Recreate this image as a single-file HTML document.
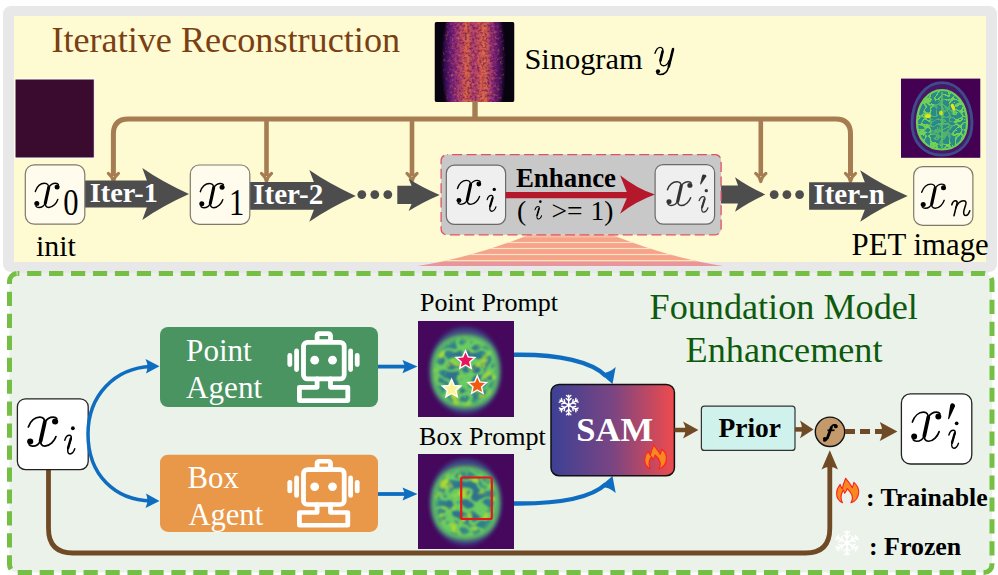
<!DOCTYPE html><html><head><meta charset="utf-8"><style>html,body{margin:0;padding:0;background:#fff;}svg{display:block;}</style></head><body>
<svg width="998" height="575" viewBox="0 0 998 575">
<defs>
<linearGradient id="samg" x1="0" x2="1" y1="0" y2="0"><stop offset="0" stop-color="#3c4095"/><stop offset="0.5" stop-color="#7a4582"/><stop offset="1" stop-color="#f04b4c"/></linearGradient>
<linearGradient id="sino" gradientUnits="userSpaceOnUse" x1="434.5" x2="514.5" y1="0" y2="0">
<stop offset="0.044" stop-color="#05030e"/><stop offset="0.144" stop-color="#3a0f5e"/><stop offset="0.22" stop-color="#7b2582"/><stop offset="0.34" stop-color="#c04a6a"/><stop offset="0.41" stop-color="#e46a40"/><stop offset="0.48" stop-color="#a83b78"/><stop offset="0.57" stop-color="#d85a55"/><stop offset="0.63" stop-color="#e06a45"/><stop offset="0.72" stop-color="#9a3080"/><stop offset="0.81" stop-color="#4a1464"/><stop offset="0.885" stop-color="#0a0515"/></linearGradient>
<filter color-interpolation-filters="sRGB" id="blur1" x="-20%" y="-20%" width="140%" height="140%"><feGaussianBlur stdDeviation="2.2"/></filter>
<filter color-interpolation-filters="sRGB" id="blur2" x="-20%" y="-20%" width="140%" height="140%"><feGaussianBlur stdDeviation="1.4"/></filter>
<radialGradient id="halo" cx="0.5" cy="0.5" r="0.5"><stop offset="0.75" stop-color="#3b4f8c"/><stop offset="1" stop-color="#46085c" stop-opacity="0"/></radialGradient>
<clipPath id="clipPP"><rect x="418" y="321" width="96" height="96"/></clipPath>
<clipPath id="clipBP"><rect x="418" y="454" width="96" height="96"/></clipPath>
<clipPath id="clipSino"><rect x="434.5" y="22" width="80" height="80" rx="2"/></clipPath>
<clipPath id="clipYellow"><rect x="14" y="16" width="972" height="246"/></clipPath>
<clipPath id="clipGrayBand"><rect x="0" y="262" width="998" height="4.2"/></clipPath>
<g id="cmx">
<path d="M 1.5,8.6 C 3.2,3.5 7,0.4 10.8,0.4 C 13.6,0.4 15.2,2.2 14.6,5.2 L 11.6,19.6 C 11.1,22.6 12.4,24.6 15,24.6 C 19.2,24.6 22.8,20.2 24,16.6" fill="none" stroke="currentColor" stroke-width="1.4" stroke-linecap="round"/>
<path d="M 14.9,4.6 L 11.5,20.2" fill="none" stroke="currentColor" stroke-width="3.1" stroke-linecap="round"/>
<path d="M 14.6,5 C 16.4,2 19.2,0.4 21.8,0.4 C 23.2,0.4 24.2,0.9 24.6,1.6" fill="none" stroke="currentColor" stroke-width="1.4" stroke-linecap="round"/>
<circle cx="23.3" cy="4.1" r="2.5" fill="currentColor"/>
<path d="M 11.6,19.8 C 10.4,22.8 7.8,24.6 5,24.6 C 3.8,24.6 2.8,24.2 2.2,23.4" fill="none" stroke="currentColor" stroke-width="1.4" stroke-linecap="round"/>
<circle cx="3" cy="20.7" r="2.5" fill="currentColor"/>
</g>
<g id="cmi">
<circle cx="7.9" cy="1.7" r="1.7" fill="currentColor"/>
<path d="M 0.6,12 C 1.4,9.4 3.2,7.8 4.8,7.8 C 6.2,7.8 6.8,8.8 6.4,10.2 C 5.6,13 4.2,16.4 3.6,18.6 C 3,20.6 3,23.8 5.2,23.8 C 7.2,23.8 8.8,21.8 9.6,19.4" fill="none" stroke="currentColor" stroke-width="1.3" stroke-linecap="round"/>
<path d="M 6.1,10.5 L 3.6,18.8" fill="none" stroke="currentColor" stroke-width="2.2" stroke-linecap="round"/>
</g>
<g id="cmprime">
<path d="M 4.6,0 C 6.6,0 7.9,1.4 7.4,3.2 L 1.5,16 L 0.5,15.6 L 2.7,2 C 3,0.7 3.7,0 4.6,0 Z" fill="currentColor"/>
</g>
<filter color-interpolation-filters="sRGB" id="noise" x="0" y="0" width="100%" height="100%"><feTurbulence type="fractalNoise" baseFrequency="0.25" numOctaves="2" seed="3"/><feColorMatrix type="matrix" values="0 0 0 0 0  0 0 0 0 0  0 0 0 0 0  0 0 0 -1.6 1.1"/><feComposite in2="SourceGraphic" operator="in"/></filter>
<g id="cmn">
<path d="M 0.6,4.6 C 1.4,2 2.8,0.6 4.2,0.6 C 5.6,0.6 6.2,1.6 5.8,3.2 L 2.8,15.4" fill="none" stroke="currentColor" stroke-width="1.6" stroke-linecap="round"/>
<path d="M 4.4,8 C 6.2,3.4 9,0.6 12.4,0.6 C 14.4,0.6 15.2,1.8 14.6,4 L 12.8,10 C 12.2,12 12.2,15.4 14.4,15.4 C 16.4,15.4 17.8,13.2 18.6,10.6" fill="none" stroke="currentColor" stroke-width="1.5" stroke-linecap="round"/>
</g>
<filter color-interpolation-filters="sRGB" id="grain" x="0" y="0" width="1" height="1"><feTurbulence type="fractalNoise" baseFrequency="0.4" numOctaves="2" seed="5" result="n"/><feColorMatrix in="n" type="matrix" values="0 0 0 0 0.25  0 0 0 0 0.02  0 0 0 0 0.3  2.6 0 0 0 -1.0"/></filter>
<filter color-interpolation-filters="sRGB" id="grainHot" x="0" y="0" width="1" height="1"><feTurbulence type="fractalNoise" baseFrequency="0.35" numOctaves="2" seed="11" result="n"/><feColorMatrix in="n" type="matrix" values="0 0 0 0 0.98  0 0 0 0 0.5  0 0 0 0 0.15  3 0 0 0 -1.6"/></filter>
<filter color-interpolation-filters="sRGB" id="teal" x="-10%" y="-10%" width="120%" height="120%"><feTurbulence type="fractalNoise" baseFrequency="0.07" numOctaves="2" seed="7" result="n"/><feColorMatrix in="n" type="matrix" values="0 0 0 0 0.16  0 0 0 0 0.5  0 0 0 0 0.56  6 0 0 0 -3.0" result="c"/><feComposite in="c" in2="SourceAlpha" operator="in" result="d"/><feGaussianBlur in="d" stdDeviation="1.6"/></filter>
<filter color-interpolation-filters="sRGB" id="yellow" x="-10%" y="-10%" width="120%" height="120%"><feTurbulence type="fractalNoise" baseFrequency="0.1" numOctaves="2" seed="21" result="n"/><feColorMatrix in="n" type="matrix" values="0 0 0 0 0.72  0 0 0 0 0.86  0 0 0 0 0.18  7 0 0 0 -4.0" result="c"/><feComposite in="c" in2="SourceAlpha" operator="in" result="d"/><feGaussianBlur in="d" stdDeviation="1.2"/></filter>
<filter color-interpolation-filters="sRGB" id="gyri" x="-10%" y="-10%" width="120%" height="120%"><feTurbulence type="turbulence" baseFrequency="0.16 0.2" numOctaves="1" seed="4" result="n"/><feColorMatrix in="n" type="matrix" values="0 0 0 0 0.45  0 0 0 0 0.82  0 0 0 0 0.33  -16 0 0 0 2.3" result="c"/><feComposite in="c" in2="SourceAlpha" operator="in"/></filter>
<g id="cmy">
<path d="M 0.4,6.3 C 1.5,3 3.5,0.4 5.6,0.4 C 7.8,0.4 8.6,2.2 8,4.6 L 5.8,13.4 C 5.2,16 6,18.8 8.8,18.8 C 11.4,18.8 13.4,16.6 14.4,13.6" fill="none" stroke="currentColor" stroke-width="1.4" stroke-linecap="round"/>
<path d="M 8,4.4 L 5.8,13.6" fill="none" stroke="currentColor" stroke-width="2.6" stroke-linecap="round"/>
<path d="M 18.6,1.4 L 14,20 C 12.8,24.6 9.4,27.6 5.6,27.6 C 3.8,27.6 2.6,27 2.2,26" fill="none" stroke="currentColor" stroke-width="1.5" stroke-linecap="round"/>
<path d="M 18.4,2.2 L 14.2,19.4" fill="none" stroke="currentColor" stroke-width="2.6" stroke-linecap="round"/>
<circle cx="3.4" cy="24.3" r="2.1" fill="currentColor"/>
</g>
<g id="cmf">
<path d="M 13.6,1.4 C 12.6,0.3 9.6,0.1 8.5,2.8 L 4.6,13.4 C 3.8,15.6 2.4,16.9 1,16.5" fill="none" stroke="currentColor" stroke-width="1.7" stroke-linecap="round"/>
<path d="M 8.4,3.2 L 4.6,13.6" fill="none" stroke="currentColor" stroke-width="2.8" stroke-linecap="round"/>
<circle cx="12.9" cy="2.2" r="1.9" fill="currentColor"/>
<circle cx="1.9" cy="14.6" r="1.9" fill="currentColor"/>
<path d="M 4.6,6.1 L 11.6,6.1" stroke="currentColor" stroke-width="1.7"/>
</g>
<filter color-interpolation-filters="sRGB" id="folds" x="-10%" y="-10%" width="120%" height="120%"><feTurbulence type="turbulence" baseFrequency="0.085 0.1" numOctaves="1" seed="9" result="n"/><feColorMatrix in="n" type="matrix" values="0 0 0 0 0.42  0 0 0 0 0.80  0 0 0 0 0.38  -11 0 0 0 1.9" result="c"/><feComposite in="c" in2="SourceAlpha" operator="in" result="d"/><feGaussianBlur in="d" stdDeviation="1.1"/></filter>
<filter color-interpolation-filters="sRGB" id="folds2" x="-10%" y="-10%" width="120%" height="120%"><feTurbulence type="turbulence" baseFrequency="0.085 0.1" numOctaves="1" seed="15" result="n"/><feColorMatrix in="n" type="matrix" values="0 0 0 0 0.42  0 0 0 0 0.80  0 0 0 0 0.38  -11 0 0 0 1.9" result="c"/><feComposite in="c" in2="SourceAlpha" operator="in" result="d"/><feGaussianBlur in="d" stdDeviation="1.1"/></filter>
</defs>
<rect width="998" height="575" fill="#ffffff"/>
<rect x="3" y="6" width="994" height="266" rx="8" fill="#e8e8e8"/>
<rect x="14" y="16" width="972" height="246" fill="#fefad1"/>
<rect x="12" y="262" width="976" height="11.5" fill="#e8e8e8"/>
<rect x="9.5" y="273.5" width="982.5" height="299" rx="8" fill="#eaf2e9" stroke="#75bf45" stroke-width="5" stroke-dasharray="14.2 7.75" stroke-dashoffset="12.35"/>
<clipPath id="clipTrap"><path d="M 528,235.2 L 613,235.2 Q 670.6,258 723,266 L 417.5,266 Q 470,258 528,235.2 Z"/></clipPath>
<g clip-path="url(#clipYellow)"><g clip-path="url(#clipTrap)"><rect x="400" y="230" width="340" height="40" fill="#f5a48a"/>
<rect x="400" y="236.20000000000002" width="340" height="1.2" fill="#fde6c8" opacity="0.5"/>
<rect x="400" y="241.9" width="340" height="1.2" fill="#fde6c8" opacity="0.95"/>
<rect x="400" y="247.9" width="340" height="1.2" fill="#fde6c8" opacity="0.95"/>
<rect x="400" y="253.9" width="340" height="1.2" fill="#fde6c8" opacity="0.95"/>
<rect x="400" y="260.0" width="340" height="1.2" fill="#fde6c8" opacity="0.95"/>
</g></g>
<g clip-path="url(#clipGrayBand)"><path d="M 528,235.2 L 613,235.2 Q 670.6,258 723,266 L 417.5,266 Q 470,258 528,235.2 Z" fill="#e7969c"/></g>
<text x="51.4" y="52" font-family='"Liberation Serif", serif' font-size="36.2" font-weight="normal" font-style="normal" fill="#7b3f14" >Iterative Reconstruction</text>
<rect x="15" y="79" width="79.3" height="79" fill="#3a0a2f" stroke="#ffffff" stroke-width="1"/>
<g clip-path="url(#clipSino)"><rect x="434.5" y="22" width="80" height="80" fill="#07030f"/>
<clipPath id="clipBand"><path d="M 448,18 C 441,45 441,80 448,106 L 500,106 C 506,80 506,45 500,18 Z"/></clipPath>
<g filter="url(#blur2)"><g clip-path="url(#clipBand)"><rect x="434.5" y="18" width="80" height="88" fill="url(#sino)"/></g></g>
<g clip-path="url(#clipBand)"><rect x="434.5" y="22" width="80" height="80" filter="url(#grain)" opacity="0.55"/><rect x="434.5" y="22" width="80" height="80" filter="url(#grainHot)" opacity="0.45"/></g>
</g>
<text x="524.4" y="68.6" font-family='"Liberation Serif", serif' font-size="30.4" font-weight="normal" font-style="normal" fill="#000" >Sinogram</text>
<use href="#cmy" transform="translate(654.6,47) scale(1.0,1.0)" style="color:#000"/>
<rect x="901" y="78.6" width="79.3" height="79.2" fill="#440154"/>
<path d="M 942,82.6 C 959,82.6 971.5,100 972,122 C 972.5,142 960,155.2 942,155.2 C 924,155.2 911.5,142 912,122 C 912.5,100 925,82.6 942,82.6 Z" fill="#47186a" stroke="#3f4c8a" stroke-width="2.8"/>
<path d="M 942,90 C 956,90 966.8,104 967,122 C 967.2,139 957,149.5 942,149.5 C 927,149.5 916.8,139 917,122 C 917.2,104 928,90 942,90 Z" fill="#2a8a8b"/>
<path d="M 942,90 C 956,90 966.8,104 967,122 C 967.2,139 957,149.5 942,149.5 C 927,149.5 916.8,139 917,122 C 917.2,104 928,90 942,90 Z" fill="#000" filter="url(#gyri)"/>
<path d="M 942,90 C 956,90 966.8,104 967,122 C 967.2,139 957,149.5 942,149.5 C 927,149.5 916.8,139 917,122 C 917.2,104 928,90 942,90 Z" fill="none" stroke="#6fcf57" stroke-width="2.2"/>
<ellipse cx="942" cy="122" rx="12" ry="23" fill="#2a8a8b" opacity="0.45"/>
<path d="M 942,92 V 148" stroke="#5fc05f" stroke-width="1.6"/>
<ellipse cx="928" cy="116" rx="3" ry="2" fill="#e2e41c"/><ellipse cx="953" cy="107" rx="1.8" ry="3.5" fill="#e2e41c" transform="rotate(-20 953 107)"/><ellipse cx="941" cy="113" rx="2" ry="2.5" fill="#c8e020"/>
<path d="M 113.4,176 V 134 Q 113.4,119 128.4,119 H 835.5 Q 850.5,119 850.5,134 V 176" fill="none" stroke="#a67c52" stroke-width="5"/>
<line x1="266.5" y1="119" x2="266.5" y2="176" stroke="#a67c52" stroke-width="4.6"/>
<line x1="412" y1="119" x2="412" y2="176" stroke="#a67c52" stroke-width="4.6"/>
<line x1="760.8" y1="119" x2="760.8" y2="176" stroke="#a67c52" stroke-width="4.6"/>
<line x1="475" y1="101" x2="475" y2="119" stroke="#a67c52" stroke-width="5.4"/>
<path d="M 108.4,173.5 Q 111.9,176 113.4,181.5 Q 114.9,176 118.4,173.5" fill="none" stroke="#a67c52" stroke-width="3.2" stroke-linejoin="round" stroke-linecap="round"/>
<path d="M 261.5,173.5 Q 265.0,176 266.5,181.5 Q 268.0,176 271.5,173.5" fill="none" stroke="#a67c52" stroke-width="3.2" stroke-linejoin="round" stroke-linecap="round"/>
<path d="M 407,173.5 Q 410.5,176 412,181.5 Q 413.5,176 417,173.5" fill="none" stroke="#a67c52" stroke-width="3.2" stroke-linejoin="round" stroke-linecap="round"/>
<path d="M 755.8,173.5 Q 759.3,176 760.8,181.5 Q 762.3,176 765.8,173.5" fill="none" stroke="#a67c52" stroke-width="3.2" stroke-linejoin="round" stroke-linecap="round"/>
<path d="M 845.5,173.5 Q 849.0,176 850.5,181.5 Q 852.0,176 855.5,173.5" fill="none" stroke="#a67c52" stroke-width="3.2" stroke-linejoin="round" stroke-linecap="round"/>
<path d="M 85,180.4 L 146.9,180.4 L 142.3,168.1 Q 162.4,182.1 189,194 Q 162.4,205.9 142.3,219.9 L 146.9,207.6 L 85,207.6 Z" fill="#4d4d4d"/>
<path d="M 249.6,182.1 L 313.90000000000003,182.1 L 309.3,170.1 Q 329.3,184.0 355.7,195.9 Q 329.3,207.8 309.3,221.70000000000002 L 313.90000000000003,209.70000000000002 L 249.6,209.70000000000002 Z" fill="#4d4d4d"/>
<path d="M 397.3,185.8 L 411.6,185.8 L 408.6,178.70000000000002 Q 422.0,187.4 439.7,194.9 Q 422.0,202.4 408.6,211.1 L 411.6,204.0 L 397.3,204.0 Z" fill="#4d4d4d"/>
<path d="M 714.6,185.5 L 738,185.5 L 735,177.3 Q 748.1,186.6 765.4,194.5 Q 748.1,202.4 735,211.7 L 738,203.5 L 714.6,203.5 Z" fill="#4d4d4d"/>
<path d="M 809.1,182.3 L 864.8000000000001,182.3 L 860.2,170.25 Q 880.6,184.2 907.7,196 Q 880.6,207.8 860.2,221.75 L 864.8000000000001,209.7 L 809.1,209.7 Z" fill="#4d4d4d"/>
<circle cx="361.8" cy="194.6" r="4.4" fill="#4d4d4d"/>
<circle cx="374.8" cy="194.6" r="4.4" fill="#4d4d4d"/>
<circle cx="387.8" cy="194.6" r="4.4" fill="#4d4d4d"/>
<circle cx="774.2" cy="194.6" r="4.4" fill="#4d4d4d"/>
<circle cx="786.9" cy="194.6" r="4.4" fill="#4d4d4d"/>
<circle cx="799.6" cy="194.6" r="4.4" fill="#4d4d4d"/>
<text x="89.8" y="202.4" font-family='"Liberation Serif", serif' font-size="28.3" font-weight="bold" font-style="normal" fill="#fff" >Iter-1</text>
<text x="253.2" y="203.7" font-family='"Liberation Serif", serif' font-size="29.1" font-weight="bold" font-style="normal" fill="#fff" >Iter-2</text>
<text x="813.4" y="203.7" font-family='"Liberation Serif", serif' font-size="29.0" font-weight="bold" font-style="normal" fill="#fff" >Iter-n</text>
<rect x="25.3" y="164.8" width="59.5" height="59.4" rx="9" fill="#fffcee" stroke="#7d7a6c" stroke-width="1.2"/>
<rect x="190.3" y="165" width="59.5" height="59.4" rx="9" fill="#fffcee" stroke="#7d7a6c" stroke-width="1.2"/>
<rect x="913.7" y="166.6" width="59.2" height="58.8" rx="9" fill="#fffcee" stroke="#7d7a6c" stroke-width="1.2"/>
<rect x="441.1" y="154.6" width="280" height="80.2" rx="6" fill="#c8c8c8" stroke="#e0506a" stroke-width="1.3" stroke-dasharray="10 4.4" stroke-dashoffset="-5"/>
<rect x="446.3" y="165.2" width="59.3" height="59.1" rx="8" fill="#efefef" stroke="#6a6a6a" stroke-width="1.2"/>
<rect x="655.1" y="164.6" width="59.5" height="59.5" rx="8" fill="#efefef" stroke="#6a6a6a" stroke-width="1.2"/>
<path d="M 505.6,192 L 626.8,192 L 620.1,175.2 Q 636,188 654.9,194.6 Q 636,201.5 620.1,213.7 L 626.8,198.2 L 505.6,198.2 Z" fill="#b5172b"/>
<text x="515.9" y="186.9" font-family='"Liberation Serif", serif' font-size="26.9" font-weight="bold" font-style="normal" fill="#000" >Enhance</text>
<text x="517" y="219.6" font-family='"Liberation Serif", serif' font-size="27.5" fill="#000">(</text>
<use href="#cmi" transform="translate(534.5,200.3) scale(0.74,0.79)" style="color:#000"/>
<text x="551.5" y="219.6" font-family='"Liberation Serif", serif' font-size="27.5" fill="#000">&gt;=<tspan dx="8">1)</tspan></text>
<use href="#cmx" transform="translate(33.8,182.9) scale(1.0,1.0)" style="color:#000"/>
<g transform="translate(63.3,214.8) scale(0.9,1.1)"><text x="0" y="0" font-family='"Liberation Serif", serif' font-size="34" font-weight="normal" font-style="normal" fill="#000" >0</text></g>
<use href="#cmx" transform="translate(198.8,183.1) scale(1.0,1.0)" style="color:#000"/>
<g transform="translate(229,214.8) scale(0.9,1.1)"><text x="0" y="0" font-family='"Liberation Serif", serif' font-size="34" font-weight="normal" font-style="normal" fill="#000" >1</text></g>
<use href="#cmx" transform="translate(456,180) scale(0.98,0.99)" style="color:#000"/>
<use href="#cmi" transform="translate(486.6,187.7) scale(0.97,0.99)" style="color:#000"/>
<use href="#cmx" transform="translate(665.9,181.4) scale(1.03,0.98)" style="color:#333"/>
<use href="#cmi" transform="translate(698.6,189) scale(0.97,0.97)" style="color:#333"/>
<use href="#cmprime" transform="translate(699.6,174.5) scale(0.9,0.62)" style="color:#333"/>
<use href="#cmx" transform="translate(920.2,183.7) scale(1.0,1.0)" style="color:#000"/>
<use href="#cmn" transform="translate(951.2,200.2) scale(1.0,1.0)" style="color:#000"/>
<text x="36" y="255.5" font-family='"Liberation Serif", serif' font-size="29.9" font-weight="normal" font-style="normal" fill="#000" >init</text>
<text x="851.6" y="255.4" font-family='"Liberation Serif", serif' font-size="30.8" font-weight="normal" font-style="normal" fill="#000" >PET image</text>
<path d="M 48.5,469 V 528.5 Q 48.5,553 73,553 H 805.5 Q 829.8,553 829.8,528.5 V 466" fill="none" stroke="#6f4a25" stroke-width="4.8"/>
<path d="M 829.8,450.2 L 838,469.4 Q 829.8,464.5 821.5,469.4 Z" fill="#6f4a25"/>
<rect x="17.4" y="398.8" width="70.8" height="70.8" rx="8" fill="#ffffff" stroke="#222" stroke-width="1.3"/>
<use href="#cmx" transform="translate(26.5,416.6) scale(1.228,1.2)" style="color:#000"/>
<use href="#cmi" transform="translate(64.1,426.3) scale(1.11,1.16)" style="color:#000"/>
<path d="M 88,434 C 88,395 115,368 151,366.5" fill="none" stroke="#0e6dc0" stroke-width="3.5"/>
<path d="M 159.5,366.3 L 145.5,359 Q 149,366 146,373.5 Z" fill="#0e6dc0"/>
<path d="M 88,434 C 88,475 115,500 151,501" fill="none" stroke="#0e6dc0" stroke-width="3.5"/>
<path d="M 159.5,501 L 146,493.5 Q 149,501 145.5,508 Z" fill="#0e6dc0"/>
<rect x="160" y="326.9" width="218" height="80.2" rx="8" fill="#4a9461"/>
<rect x="160" y="454.7" width="218" height="77.2" rx="8" fill="#e89848"/>
<text x="186.1" y="360.9" font-family='"Liberation Serif", serif' font-size="31.1" font-weight="normal" font-style="normal" fill="#fff" >Point</text>
<text x="186.1" y="398.2" font-family='"Liberation Serif", serif' font-size="31.1" font-weight="normal" font-style="normal" fill="#fff" >Agent</text>
<text x="187.5" y="487.7" font-family='"Liberation Serif", serif' font-size="30.8" font-weight="normal" font-style="normal" fill="#fff" >Box</text>
<text x="188.4" y="524.5" font-family='"Liberation Serif", serif' font-size="30.6" font-weight="normal" font-style="normal" fill="#fff" >Agent</text>
<g transform="translate(287,331) scale(1,1.0)" fill="none" stroke="#fff" stroke-width="4.8" stroke-linecap="round" stroke-linejoin="round">
<rect x="30.1" y="2.6" width="13.4" height="8" rx="2"/>
<rect x="16.5" y="11.3" width="40.7" height="36.6" rx="4"/>
<path d="M 30.1,47.9 V 56.3 H 12.4 V 69.6 H 60.8 V 56.3 H 43.5 V 47.9"/>
<line x1="2.8" y1="24.5" x2="2.8" y2="33.6"/>
<line x1="9.6" y1="20" x2="9.6" y2="38.5"/>
<line x1="63.6" y1="20" x2="63.6" y2="38.5"/>
<line x1="70.2" y1="24.5" x2="70.2" y2="33.6"/>
</g>
<g transform="translate(287,331) scale(1,1.0)" fill="#fff"><circle cx="27.7" cy="29.2" r="4.4"/><circle cx="45.5" cy="29.2" r="4.4"/></g>
<g transform="translate(287,458.8) scale(1,0.955)" fill="none" stroke="#fff" stroke-width="4.8" stroke-linecap="round" stroke-linejoin="round">
<rect x="30.1" y="2.6" width="13.4" height="8" rx="2"/>
<rect x="16.5" y="11.3" width="40.7" height="36.6" rx="4"/>
<path d="M 30.1,47.9 V 56.3 H 12.4 V 69.6 H 60.8 V 56.3 H 43.5 V 47.9"/>
<line x1="2.8" y1="24.5" x2="2.8" y2="33.6"/>
<line x1="9.6" y1="20" x2="9.6" y2="38.5"/>
<line x1="63.6" y1="20" x2="63.6" y2="38.5"/>
<line x1="70.2" y1="24.5" x2="70.2" y2="33.6"/>
</g>
<g transform="translate(287,458.8) scale(1,0.955)" fill="#fff"><circle cx="27.7" cy="29.2" r="4.4"/><circle cx="45.5" cy="29.2" r="4.4"/></g>
<line x1="378" y1="366.6" x2="405" y2="366.6" stroke="#0e6dc0" stroke-width="3.8"/>
<path d="M 417.5,366.6 L 402.5,360 L 405,366.6 L 402.5,373.2 Z" fill="#0e6dc0"/>
<line x1="378" y1="494" x2="405" y2="494" stroke="#0e6dc0" stroke-width="3.8"/>
<path d="M 417.5,494 L 402.5,487.4 L 405,494 L 402.5,500.6 Z" fill="#0e6dc0"/>
<text x="420" y="310.8" font-family='"Liberation Serif", serif' font-size="26" font-weight="normal" font-style="normal" fill="#000" >Point Prompt</text>
<text x="419" y="444.8" font-family='"Liberation Serif", serif' font-size="26.1" font-weight="normal" font-style="normal" fill="#000" >Box Prompt</text>
<g clip-path="url(#clipPP)">
<rect x="418" y="320.5" width="96" height="97" fill="#46085c"/>
<path d="M 465.2,327.5 C 485.79,327.5 500.7,345.56 500.7,370.5 C 500.7,395.44 485.79,413.5 465.2,413.5 C 444.61,413.5 429.7,395.44 429.7,370.5 C 429.7,345.56 444.61,327.5 465.2,327.5 Z" fill="#3c4886" filter="url(#blur1)"/>
<path d="M 465.2,332.5 C 485.00,332.5 498.2,347.90 498.2,371.0 C 498.2,394.10 485.00,409.5 465.2,409.5 C 445.40,409.5 432.2,394.10 432.2,371.0 C 432.2,347.90 445.40,332.5 465.2,332.5 Z" fill="#453a80" filter="url(#blur2)"/>
<path d="M 465.2,337.0 C 485.04,337.0 496.7,349.76 496.7,371.5 C 496.7,393.24 485.04,406.0 465.2,406.0 C 445.36,406.0 433.7,393.24 433.7,371.5 C 433.7,349.76 445.36,337.0 465.2,337.0 Z" fill="#31808c" filter="url(#blur2)"/>
<path d="M 465.2,337.0 C 485.04,337.0 496.7,349.76 496.7,371.5 C 496.7,393.24 485.04,406.0 465.2,406.0 C 445.36,406.0 433.7,393.24 433.7,371.5 C 433.7,349.76 445.36,337.0 465.2,337.0 Z" fill="none" stroke="#62c760" stroke-width="5" filter="url(#blur1)"/>
<ellipse cx="465.2" cy="372.5" rx="20" ry="24" fill="#2f6a8e" opacity="0.6" filter="url(#blur1)"/>
<path d="M 465.2,338.0 C 484.41,338.0 495.7,350.39 495.7,371.5 C 495.7,392.61 484.41,405.0 465.2,405.0 C 445.99,405.0 434.7,392.61 434.7,371.5 C 434.7,350.39 445.99,338.0 465.2,338.0 Z" fill="#000" filter="url(#folds)"/>
<line x1="465.2" y1="337.5" x2="465.2" y2="405.5" stroke="#30608b" stroke-width="2.5" opacity="0.6" filter="url(#blur2)"/>
<path d="M 465.2,337.5 C 484.73,337.5 496.2,350.08 496.2,371.5 C 496.2,392.92 484.73,405.5 465.2,405.5 C 445.67,405.5 434.2,392.92 434.2,371.5 C 434.2,350.08 445.67,337.5 465.2,337.5 Z" fill="#000" filter="url(#yellow)" opacity="0.9"/>
</g>
<polygon points="465.50,350.70 468.15,356.85 474.82,357.47 469.79,361.89 471.26,368.43 465.50,365.01 459.74,368.43 461.21,361.89 456.18,357.47 462.85,356.85" fill="#e8175d" stroke="#fff" stroke-width="1.4" stroke-linejoin="miter"/>
<polygon points="451.60,379.20 454.25,385.35 460.92,385.97 455.89,390.39 457.36,396.93 451.60,393.51 445.84,396.93 447.31,390.39 442.28,385.97 448.95,385.35" fill="#fdf29a" stroke="#fff" stroke-width="1.4" stroke-linejoin="miter"/>
<polygon points="477.30,375.70 479.95,381.85 486.62,382.47 481.59,386.89 483.06,393.43 477.30,390.01 471.54,393.43 473.01,386.89 467.98,382.47 474.65,381.85" fill="#f25a10" stroke="#fff" stroke-width="1.4" stroke-linejoin="miter"/>
<g clip-path="url(#clipBP)">
<rect x="418" y="452" width="96" height="97" fill="#46085c"/>
<path d="M 465.6,459 C 486.19,459 501.1,477.06 501.1,502 C 501.1,526.94 486.19,545 465.6,545 C 445.01,545 430.1,526.94 430.1,502 C 430.1,477.06 445.01,459 465.6,459 Z" fill="#3c4886" filter="url(#blur1)"/>
<path d="M 465.6,464.0 C 485.40,464.0 498.6,479.40 498.6,502.5 C 498.6,525.60 485.40,541.0 465.6,541.0 C 445.80,541.0 432.6,525.60 432.6,502.5 C 432.6,479.40 445.80,464.0 465.6,464.0 Z" fill="#453a80" filter="url(#blur2)"/>
<path d="M 465.6,468.5 C 485.45,468.5 497.1,481.26 497.1,503 C 497.1,524.74 485.45,537.5 465.6,537.5 C 445.75,537.5 434.1,524.74 434.1,503 C 434.1,481.26 445.75,468.5 465.6,468.5 Z" fill="#31808c" filter="url(#blur2)"/>
<path d="M 465.6,468.5 C 485.45,468.5 497.1,481.26 497.1,503 C 497.1,524.74 485.45,537.5 465.6,537.5 C 445.75,537.5 434.1,524.74 434.1,503 C 434.1,481.26 445.75,468.5 465.6,468.5 Z" fill="none" stroke="#62c760" stroke-width="5" filter="url(#blur1)"/>
<ellipse cx="465.6" cy="504" rx="20" ry="24" fill="#2f6a8e" opacity="0.6" filter="url(#blur1)"/>
<path d="M 465.6,469.5 C 484.81,469.5 496.1,481.89 496.1,503 C 496.1,524.11 484.81,536.5 465.6,536.5 C 446.39,536.5 435.1,524.11 435.1,503 C 435.1,481.89 446.39,469.5 465.6,469.5 Z" fill="#000" filter="url(#folds2)"/>
<line x1="465.6" y1="469" x2="465.6" y2="537" stroke="#30608b" stroke-width="2.5" opacity="0.6" filter="url(#blur2)"/>
<path d="M 465.6,469 C 485.13,469 496.6,481.58 496.6,503 C 496.6,524.42 485.13,537 465.6,537 C 446.07,537 434.6,524.42 434.6,503 C 434.6,481.58 446.07,469 465.6,469 Z" fill="#000" filter="url(#yellow)" opacity="0.9"/>
</g>
<rect x="461.2" y="477.5" width="30.6" height="41.5" rx="1.5" fill="none" stroke="#e81616" stroke-width="2.2"/>
<path d="M 514,354.8 C 560,354 592,362 606,376" fill="none" stroke="#0e6dc0" stroke-width="4.4"/>
<path d="M 612.5,384 L 599.4,372.8 Q 608,374 615.7,366.9 Z" fill="#0e6dc0"/>
<path d="M 514,503.5 C 560,504 592,497 606,484" fill="none" stroke="#0e6dc0" stroke-width="4.4"/>
<path d="M 612.5,476 L 599.4,487.2 Q 608,486 615.7,493.1 Z" fill="#0e6dc0"/>
<rect x="551" y="384.4" width="123.4" height="91.3" rx="8" fill="url(#samg)" stroke="#111" stroke-width="1.5"/>
<text x="576.2" y="441.2" font-family='"Liberation Serif", serif' font-size="34.6" font-weight="bold" font-style="normal" fill="#fff" >SAM</text>
<g stroke="#fff" stroke-width="1.4" stroke-linecap="round"><line x1="568.7" y1="405.1" x2="568.70" y2="395.10"/><line x1="568.70" y1="400.60" x2="571.15" y2="398.54"/><line x1="568.70" y1="400.60" x2="566.25" y2="398.54"/><line x1="568.70" y1="397.30" x2="570.84" y2="395.50"/><line x1="568.70" y1="397.30" x2="566.56" y2="395.50"/><line x1="568.7" y1="405.1" x2="560.04" y2="400.10"/><line x1="564.80" y1="402.85" x2="564.25" y2="399.70"/><line x1="564.80" y1="402.85" x2="561.80" y2="403.94"/><line x1="561.95" y1="401.20" x2="561.46" y2="398.44"/><line x1="561.95" y1="401.20" x2="559.31" y2="402.16"/><line x1="568.7" y1="405.1" x2="560.04" y2="410.10"/><line x1="564.80" y1="407.35" x2="561.80" y2="406.26"/><line x1="564.80" y1="407.35" x2="564.25" y2="410.50"/><line x1="561.95" y1="409.00" x2="559.31" y2="408.04"/><line x1="561.95" y1="409.00" x2="561.46" y2="411.76"/><line x1="568.7" y1="405.1" x2="568.70" y2="415.10"/><line x1="568.70" y1="409.60" x2="566.25" y2="411.66"/><line x1="568.70" y1="409.60" x2="571.15" y2="411.66"/><line x1="568.70" y1="412.90" x2="566.56" y2="414.70"/><line x1="568.70" y1="412.90" x2="570.84" y2="414.70"/><line x1="568.7" y1="405.1" x2="577.36" y2="410.10"/><line x1="572.60" y1="407.35" x2="573.15" y2="410.50"/><line x1="572.60" y1="407.35" x2="575.60" y2="406.26"/><line x1="575.45" y1="409.00" x2="575.94" y2="411.76"/><line x1="575.45" y1="409.00" x2="578.09" y2="408.04"/><line x1="568.7" y1="405.1" x2="577.36" y2="400.10"/><line x1="572.60" y1="402.85" x2="575.60" y2="403.94"/><line x1="572.60" y1="402.85" x2="573.15" y2="399.70"/><line x1="575.45" y1="401.20" x2="578.09" y2="402.16"/><line x1="575.45" y1="401.20" x2="575.94" y2="398.44"/><circle cx="568.7" cy="405.1" r="1.80" fill="#fff" stroke="none"/></g>
<g transform="translate(644.2,444.4) scale(1.0,1.0)"><path d="M 9.5,0.6 C 11.5,3.5 14.5,6.5 16,9.8 C 16.8,8 17.3,6 17.5,4.6 C 21,7.5 22.4,11 22.2,14.5 C 22,19.5 18.8,23.2 14.6,24.6 C 16.2,22 16.6,19.4 15.4,16.6 C 14.4,14.2 12.6,12.2 10.9,10.6 C 10.6,12.5 9.8,14 8.4,15.2 C 8.2,13.8 7.8,12.8 7.2,12.2 C 5.2,15.5 4.4,18.5 5.2,21.5 C 5.5,22.8 6,23.8 6.4,24.6 C 2.8,23 0.6,19.6 0.6,15.6 C 0.6,12 2.2,9 4.1,6.6 C 4.4,8 5.2,9.6 6.2,10.9 C 6.8,7 8.2,3.6 9.5,0.6 Z" fill="#f7891f" stroke="#fa2424" stroke-width="1.1" stroke-linejoin="round"/></g>
<line x1="674.4" y1="430" x2="688" y2="430" stroke="#6f4a25" stroke-width="4.5"/>
<path d="M 698.4,430 L 683,421.5 Q 688,430 683,438.5 Z" fill="#6f4a25"/>
<rect x="701.4" y="406.2" width="93.6" height="44.2" rx="3" fill="#cff2ec" stroke="#333" stroke-width="1.2"/>
<text x="718.4" y="437.1" font-family='"Liberation Serif", serif' font-size="27.5" font-weight="bold" font-style="normal" fill="#000" >Prior</text>
<line x1="795" y1="429.4" x2="804" y2="429.4" stroke="#6f4a25" stroke-width="4.5"/>
<path d="M 813.5,429.4 L 800,420.5 Q 804,429.4 800,438.3 Z" fill="#6f4a25"/>
<circle cx="830" cy="431.8" r="14.7" fill="#c49a6c" stroke="#111" stroke-width="1.4"/>
<use href="#cmf" transform="translate(822.9,424.2) scale(1.0,1.0)" style="color:#000"/>
<line x1="845" y1="431.5" x2="884" y2="431.5" stroke="#6f4a25" stroke-width="5" stroke-dasharray="10 5"/>
<path d="M 897.4,431.5 L 879.8,422 Q 884.5,431.5 879.8,441 Z" fill="#6f4a25"/>
<rect x="901.4" y="393.9" width="70.4" height="70.1" rx="9" fill="#ffffff" stroke="#222" stroke-width="1.3"/>
<use href="#cmx" transform="translate(910.6,411.7) scale(1.19,1.2)" style="color:#000"/>
<use href="#cmi" transform="translate(948.2,421.4) scale(1.07,1.13)" style="color:#000"/>
<use href="#cmprime" transform="translate(947.5,403.3) scale(1.0,1.0)" style="color:#000"/>
<text x="649.5" y="318.5" font-family='"Liberation Serif", serif' font-size="36.2" font-weight="normal" font-style="normal" fill="#0e5a0e" >Foundation Model</text>
<text x="685.6" y="361.8" font-family='"Liberation Serif", serif' font-size="36.2" font-weight="normal" font-style="normal" fill="#0e5a0e" >Enhancement</text>
<g transform="translate(836,477.7) scale(1.02,1.02)"><path d="M 9.5,0.6 C 11.5,3.5 14.5,6.5 16,9.8 C 16.8,8 17.3,6 17.5,4.6 C 21,7.5 22.4,11 22.2,14.5 C 22,19.5 18.8,23.2 14.6,24.6 C 16.2,22 16.6,19.4 15.4,16.6 C 14.4,14.2 12.6,12.2 10.9,10.6 C 10.6,12.5 9.8,14 8.4,15.2 C 8.2,13.8 7.8,12.8 7.2,12.2 C 5.2,15.5 4.4,18.5 5.2,21.5 C 5.5,22.8 6,23.8 6.4,24.6 C 2.8,23 0.6,19.6 0.6,15.6 C 0.6,12 2.2,9 4.1,6.6 C 4.4,8 5.2,9.6 6.2,10.9 C 6.8,7 8.2,3.6 9.5,0.6 Z" fill="#f7891f" stroke="#fa2424" stroke-width="1.1" stroke-linejoin="round"/></g>
<text x="866" y="505.6" font-family='"Liberation Serif", serif' font-size="25.8" font-weight="bold" font-style="normal" fill="#000" >: Trainable</text>
<g stroke="#fff" stroke-width="1.5" stroke-linecap="round"><line x1="847" y1="543" x2="847.00" y2="531.00"/><line x1="847.00" y1="537.60" x2="849.94" y2="535.13"/><line x1="847.00" y1="537.60" x2="844.06" y2="535.13"/><line x1="847.00" y1="533.64" x2="849.57" y2="531.48"/><line x1="847.00" y1="533.64" x2="844.43" y2="531.48"/><line x1="847" y1="543" x2="836.61" y2="537.00"/><line x1="842.32" y1="540.30" x2="841.66" y2="536.52"/><line x1="842.32" y1="540.30" x2="838.72" y2="541.61"/><line x1="838.89" y1="538.32" x2="838.31" y2="535.01"/><line x1="838.89" y1="538.32" x2="835.74" y2="539.47"/><line x1="847" y1="543" x2="836.61" y2="549.00"/><line x1="842.32" y1="545.70" x2="838.72" y2="544.39"/><line x1="842.32" y1="545.70" x2="841.66" y2="549.48"/><line x1="838.89" y1="547.68" x2="835.74" y2="546.53"/><line x1="838.89" y1="547.68" x2="838.31" y2="550.99"/><line x1="847" y1="543" x2="847.00" y2="555.00"/><line x1="847.00" y1="548.40" x2="844.06" y2="550.87"/><line x1="847.00" y1="548.40" x2="849.94" y2="550.87"/><line x1="847.00" y1="552.36" x2="844.43" y2="554.52"/><line x1="847.00" y1="552.36" x2="849.57" y2="554.52"/><line x1="847" y1="543" x2="857.39" y2="549.00"/><line x1="851.68" y1="545.70" x2="852.34" y2="549.48"/><line x1="851.68" y1="545.70" x2="855.28" y2="544.39"/><line x1="855.11" y1="547.68" x2="855.69" y2="550.99"/><line x1="855.11" y1="547.68" x2="858.26" y2="546.53"/><line x1="847" y1="543" x2="857.39" y2="537.00"/><line x1="851.68" y1="540.30" x2="855.28" y2="541.61"/><line x1="851.68" y1="540.30" x2="852.34" y2="536.52"/><line x1="855.11" y1="538.32" x2="858.26" y2="539.47"/><line x1="855.11" y1="538.32" x2="855.69" y2="535.01"/><circle cx="847" cy="543" r="2.16" fill="#fff" stroke="none"/></g>
<text x="869" y="554.9" font-family='"Liberation Serif", serif' font-size="25.9" font-weight="bold" font-style="normal" fill="#000" >: Frozen</text>
</svg></body></html>
